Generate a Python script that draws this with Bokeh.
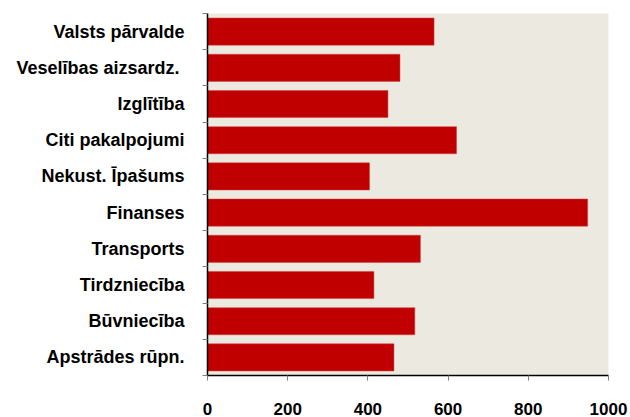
from bokeh.plotting import figure
from bokeh.models import Range1d, FixedTicker, ColumnDataSource
from bokeh.embed import file_html
from bokeh.resources import INLINE

categories = ["Apstrādes rūpn.", "Būvniecība", "Tirdzniecība", "Transports", "Finanses",
              "Nekust. Īpašums", "Citi pakalpojumi", "Izglītība", "Veselības  aizsardz.", "Valsts pārvalde"]
values = [465, 517, 415, 531, 948, 404, 621, 450, 480, 565]
x_ticks = [0, 200, 400, 600, 800, 1000]

pos = [i + 0.5 for i in range(len(categories))]
src = ColumnDataSource(dict(y=pos, v=values, c=categories))

p = figure(width=630, height=417, output_backend="svg", toolbar_location=None,
           x_range=Range1d(0, 1000), y_range=Range1d(0, len(categories)),
           min_border_left=207, min_border_right=22, min_border_top=13, min_border_bottom=39)
p.background_fill_color = "#ECEAE0"
p.border_fill_color = "white"
p.outline_line_color = None
p.grid.visible = False

p.hbar(y="y", right="v", left=0, height=0.75, source=src,
       fill_color="#C00000", line_color="#D04040", line_width=0.5)

font = "Liberation Sans"
# x axis
p.xaxis.ticker = FixedTicker(ticks=x_ticks)
p.xaxis.axis_line_color = "black"
p.xaxis.axis_line_width = 1.5
p.xaxis.major_tick_line_color = "#808080"
p.xaxis.major_tick_out = 5
p.xaxis.major_tick_in = 0
p.xaxis.minor_tick_line_color = None
p.xaxis.major_label_text_font = font
p.xaxis.major_label_text_font_style = "bold"
p.xaxis.major_label_text_font_size = "17px"
p.xaxis.major_label_text_color = "black"
p.xaxis.major_label_standoff = 22

# y axis
p.yaxis.ticker = FixedTicker(ticks=pos, minor_ticks=list(range(len(categories) + 1)))
p.yaxis.major_label_overrides = {pp: c for pp, c in zip(pos, categories)}
p.yaxis.axis_line_color = "black"
p.yaxis.axis_line_width = 1.5
p.yaxis.major_tick_line_color = None
p.yaxis.major_tick_out = 0
p.yaxis.major_tick_in = 0
p.yaxis.minor_tick_line_color = "#808080"
p.yaxis.minor_tick_out = 5
p.yaxis.minor_tick_in = 0
p.yaxis.major_label_text_font = font
p.yaxis.major_label_text_font_style = "bold"
p.yaxis.major_label_text_font_size = "18px"
p.yaxis.major_label_text_color = "black"
p.yaxis.major_label_standoff = 18

open("out.html", "w").write(file_html(p, INLINE))
